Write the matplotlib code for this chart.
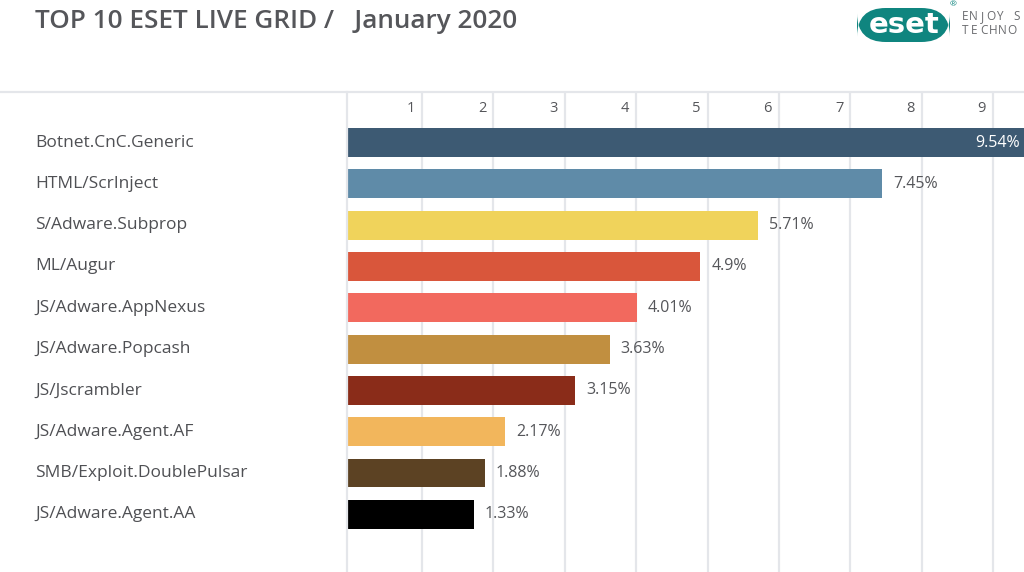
import matplotlib
matplotlib.use("Agg")
import matplotlib.pyplot as plt
from matplotlib.transforms import blended_transform_factory, offset_copy
from matplotlib.patches import FancyBboxPatch
from matplotlib.lines import Line2D

plt.rcParams['font.family'] = ['Open Sans', 'DejaVu Sans']

# ---- data ----
categories = ["Botnet.CnC.Generic", "HTML/ScrInject", "S/Adware.Subprop", "ML/Augur",
              "JS/Adware.AppNexus", "JS/Adware.Popcash", "JS/Jscrambler",
              "JS/Adware.Agent.AF", "SMB/Exploit.DoublePulsar", "JS/Adware.Agent.AA"]
values = [9.54, 7.45, 5.71, 4.9, 4.01, 3.63, 3.15, 2.17, 1.88, 1.73]
value_labels = ["9.54%", "7.45%", "5.71%", "4.9%", "4.01%", "3.63%", "3.15%",
                "2.17%", "1.88%", "1.33%"]
colors = ["#3d5a73", "#5f8ba8", "#f0d35b", "#d9563b", "#f2695e", "#c18f40",
          "#8a2c19", "#f2b65c", "#5c4223", "#000000"]
tick_values = [1, 2, 3, 4, 5, 6, 7, 8, 9]
tick_labels = ["1", "2", "3", "4", "5", "6", "7", "8", "9"]

W, H = 1024, 572
fig = plt.figure(figsize=(W / 100, H / 100), dpi=100)
fig.patch.set_facecolor("white")

top_px = 92
left_px = 347
ax = fig.add_axes([left_px / W, 0, 1 - left_px / W, (H - top_px) / H])

unit = 71.4
zero_px = 350.5
x_min = (left_px - zero_px) / unit
x_max = (W - zero_px) / unit
ax.set_xlim(x_min, x_max)

row = 41.3
ax.set_ylim(len(categories) - 1 + (H - 514.3) / row, -(142.5 - top_px) / row)

gray_line = "#e4e6ea"
text_gray = "#55565a"

ax.set_xticks(tick_values)
ax.grid(axis="x", color=gray_line, linewidth=1.6, zorder=0)
ax.tick_params(left=False, bottom=False, labelleft=False, labelbottom=False)
for s in ["top", "right", "bottom"]:
    ax.spines[s].set_visible(False)
ax.spines["left"].set_color(gray_line)
ax.spines["left"].set_linewidth(1.6)
ax.set_axisbelow(True)

ypos = list(range(len(categories)))
ax.barh(ypos, [v - x_min for v in values], left=x_min, height=0.70,
        color=colors, zorder=2)

# tick numbers on top, right aligned left of gridlines
tr_top = blended_transform_factory(ax.transData, ax.transAxes)
tr_top_off = offset_copy(tr_top, fig=fig, x=-7, y=0, units="dots")
for t, lab in zip(tick_values, tick_labels):
    ax.text(t, 1 - 16 / (H - top_px), lab, transform=tr_top_off, ha="right",
            va="center", fontsize=10.5, color=text_gray)

# value labels
tr_in = offset_copy(ax.transData, fig=fig, x=-4, y=0, units="dots")
tr_out = offset_copy(ax.transData, fig=fig, x=11, y=0, units="dots")
for y, v, lab in zip(ypos, values, value_labels):
    if v > x_max:
        ax.text(x_max, y, lab, transform=tr_in, ha="right", va="center",
                fontsize=11.5, color="white", zorder=3)
    else:
        ax.text(v, y, lab, transform=tr_out, ha="left", va="center",
                fontsize=11.5, color=text_gray, zorder=3)

# category labels
tr_cat = blended_transform_factory(fig.transFigure, ax.transData)
for y, c in zip(ypos, categories):
    ax.text(35 / W, y, c, transform=tr_cat, ha="left", va="center",
            fontsize=12.5, color="#4f5054", clip_on=False)

# top separator line
fig.add_artist(Line2D([0, 1], [1 - top_px / H, 1 - top_px / H],
                      transform=fig.transFigure, color=gray_line, linewidth=1.6))

# title
fig.text(35 / W, 1 - 22 / H, "TOP 10 ESET LIVE GRID /   January 2020",
         ha="left", va="center", fontsize=18.8, fontweight="semibold", color=text_gray)

# logo
teal = "#0f857f"
logo = FancyBboxPatch((857 / W, 1 - 42 / H), 93 / W, 34 / H,
                      boxstyle="round,pad=0,rounding_size=0.028",
                      transform=fig.transFigure, facecolor=teal, edgecolor="none",
                      mutation_aspect=W / H)
fig.add_artist(logo)
fig.text(904 / W, 1 - 25 / H, "eset", ha="center", va="center", fontsize=21,
         fontweight="bold", color="white", family=["DejaVu Sans"])
fig.text(953 / W, 1 - 5 / H, "®", ha="center", va="center", fontsize=6, color=teal)
for i, ch in enumerate("ENJOY S"):
    fig.text((965 + i * 8.6) / W, 1 - 17 / H, ch, ha="center", va="center",
             fontsize=8.5, color="#6a6b6e")
for i, ch in enumerate("TECHNO"):
    fig.text((965 + i * 9.3) / W, 1 - 31 / H, ch, ha="center", va="center",
             fontsize=8.5, color="#6a6b6e")

fig.savefig("out.png", dpi=100, facecolor="white")
